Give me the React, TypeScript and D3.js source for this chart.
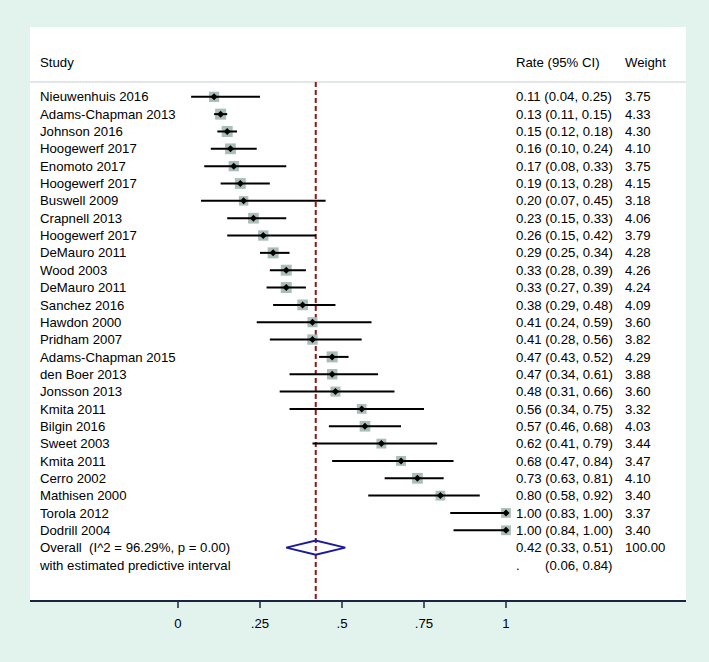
import React from "react";
import * as d3 from "d3";

const studies = [
  "Nieuwenhuis 2016", "Adams-Chapman 2013", "Johnson 2016", "Hoogewerf 2017",
  "Enomoto 2017", "Hoogewerf 2017", "Buswell 2009", "Crapnell 2013",
  "Hoogewerf 2017", "DeMauro 2011", "Wood 2003", "DeMauro 2011",
  "Sanchez 2016", "Hawdon 2000", "Pridham 2007", "Adams-Chapman 2015",
  "den Boer 2013", "Jonsson 2013", "Kmita 2011", "Bilgin 2016",
  "Sweet 2003", "Kmita 2011", "Cerro 2002", "Mathisen 2000",
  "Torola 2012", "Dodrill 2004",
];
const rates = [0.11, 0.13, 0.15, 0.16, 0.17, 0.19, 0.20, 0.23, 0.26, 0.29, 0.33, 0.33, 0.38, 0.41, 0.41, 0.47, 0.47, 0.48, 0.56, 0.57, 0.62, 0.68, 0.73, 0.80, 1.00, 1.00];
const lower = [0.04, 0.11, 0.12, 0.10, 0.08, 0.13, 0.07, 0.15, 0.15, 0.25, 0.28, 0.27, 0.29, 0.24, 0.28, 0.43, 0.34, 0.31, 0.34, 0.46, 0.41, 0.47, 0.63, 0.58, 0.83, 0.84];
const upper = [0.25, 0.15, 0.18, 0.24, 0.33, 0.28, 0.45, 0.33, 0.42, 0.34, 0.39, 0.39, 0.48, 0.59, 0.56, 0.52, 0.61, 0.66, 0.75, 0.68, 0.79, 0.84, 0.81, 0.92, 1.00, 1.00];
const weights = [3.75, 4.33, 4.30, 4.10, 3.75, 4.15, 3.18, 4.06, 3.79, 4.28, 4.26, 4.24, 4.09, 3.60, 3.82, 4.29, 3.88, 3.60, 3.32, 4.03, 3.44, 3.47, 4.10, 3.40, 3.37, 3.40];

const overall = { rate: 0.42, lo: 0.33, hi: 0.51, weight: "100.00" };
const overallLabel = "Overall  (I^2 = 96.29%, p = 0.00)";
const predictiveLabel = "with estimated predictive interval";
const predictive = "(0.06, 0.84)";
const ticks = [0, 0.25, 0.5, 0.75, 1];
const tickLabels = ["0", ".25", ".5", ".75", "1"];

const f2 = (v: number) => v.toFixed(2);

export default function App() {
  const width = 709;
  const height = 662;
  const panel = { left: 30, right: 686, top: 27, bottom: 601 };
  const headerLineY = 82;
  const font = "'Liberation Sans', Arial, sans-serif";
  const fs = 13.2;

  const x = d3.scaleLinear().domain([0, 1]).range([178, 506]);
  const y = d3.scaleLinear().domain([0, 1]).range([96.8, 96.8 + 17.34]);
  const side = (w: number) => 5.3 * Math.sqrt(w);

  const nRows = studies.length;
  const yOverall = y(nRows);
  const yPred = y(nRows + 1);
  const rateX = 516;
  const weightX = 625;

  return (
    <svg
      width={width}
      height={height}
      style={{ position: "absolute", left: 0, top: 0 }}
      fontFamily={font}
    >
      <rect x={0} y={0} width={width} height={height} fill="#e2f2ec" />
      <rect
        x={panel.left}
        y={panel.top}
        width={panel.right - panel.left}
        height={panel.bottom - panel.top}
        fill="#ffffff"
      />

      {/* header */}
      <text x={40} y={67} fontSize={fs} fill="#000">Study</text>
      <text x={rateX} y={67} fontSize={fs} fill="#000">Rate (95% CI)</text>
      <text x={weightX} y={67} fontSize={fs} fill="#000">Weight</text>
      <line x1={panel.left} x2={panel.right} y1={headerLineY} y2={headerLineY} stroke="#c3cfd2" strokeWidth={1.2} />

      {/* reference line at overall estimate */}
      <line
        x1={x(overall.rate)}
        x2={x(overall.rate)}
        y1={headerLineY}
        y2={panel.bottom}
        stroke="#8b1a1a"
        strokeWidth={2}
        strokeDasharray="5 3"
      />

      {/* studies */}
      {studies.map((s, i) => {
        const cy = y(i);
        const sz = side(weights[i]);
        const cx = x(rates[i]);
        return (
          <g key={i}>
            <text x={40} y={cy} dy="0.35em" fontSize={fs} fill="#000">{s}</text>
            <rect x={cx - sz / 2} y={cy - sz / 2} width={sz} height={sz} fill="#a9bdb9" />
            <line x1={x(lower[i])} x2={x(upper[i])} y1={cy} y2={cy} stroke="#000" strokeWidth={2} />
            <path
              d={`M${cx - 3.5},${cy}L${cx},${cy - 3.5}L${cx + 3.5},${cy}L${cx},${cy + 3.5}Z`}
              fill="#000"
            />
            <text x={rateX} y={cy} dy="0.35em" fontSize={fs} fill="#000">
              {`${f2(rates[i])} (${f2(lower[i])}, ${f2(upper[i])})`}
            </text>
            <text x={weightX} y={cy} dy="0.35em" fontSize={fs} fill="#000">{f2(weights[i])}</text>
          </g>
        );
      })}

      {/* overall */}
      <text x={40} y={yOverall} dy="0.35em" fontSize={fs} fill="#000" style={{ whiteSpace: "pre" }}>
        {overallLabel}
      </text>
      <path
        d={`M${x(overall.lo)},${yOverall}L${x(overall.rate)},${yOverall - 7}L${x(overall.hi)},${yOverall}L${x(overall.rate)},${yOverall + 7}Z`}
        fill="none"
        stroke="#1a1a9a"
        strokeWidth={2}
      />
      <text x={rateX} y={yOverall} dy="0.35em" fontSize={fs} fill="#000">
        {`${f2(overall.rate)} (${f2(overall.lo)}, ${f2(overall.hi)})`}
      </text>
      <text x={weightX} y={yOverall} dy="0.35em" fontSize={fs} fill="#000">{overall.weight}</text>

      <text x={40} y={yPred} dy="0.35em" fontSize={fs} fill="#000">{predictiveLabel}</text>
      <text x={rateX} y={yPred} dy="0.35em" fontSize={fs} fill="#000">.</text>
      <text x={545} y={yPred} dy="0.35em" fontSize={fs} fill="#000">{predictive}</text>

      {/* x axis */}
      <line x1={panel.left} x2={panel.right} y1={panel.bottom} y2={panel.bottom} stroke="#1c2540" strokeWidth={2} />
      {ticks.map((t, i) => (
        <g key={t}>
          <line x1={x(t)} x2={x(t)} y1={panel.bottom} y2={panel.bottom + 7} stroke="#1c2540" strokeWidth={1.5} />
          <text x={x(t)} y={panel.bottom + 22} dy="0.35em" textAnchor="middle" fontSize={fs} fill="#000">
            {tickLabels[i]}
          </text>
        </g>
      ))}
    </svg>
  );
}
